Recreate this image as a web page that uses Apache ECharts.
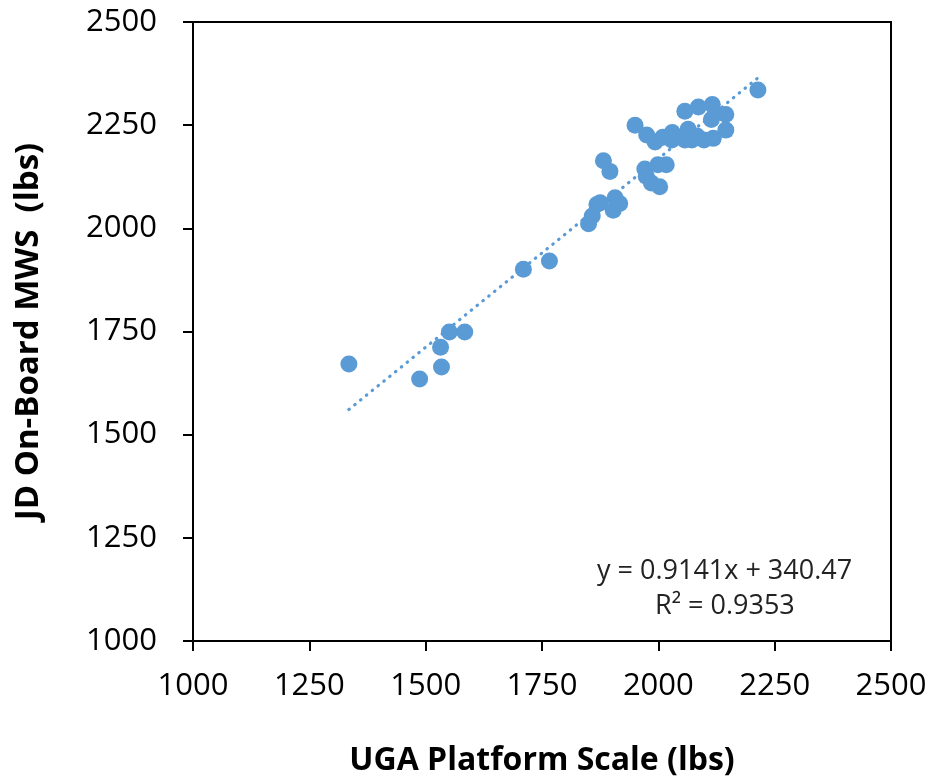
<!DOCTYPE html>
<html>
<head>
<meta charset="utf-8">
<script src="https://cdn.jsdelivr.net/npm/echarts@6/dist/echarts.min.js"></script>
<style>
  html, body { margin: 0; padding: 0; background: #fff; }
  #chart { width: 936px; height: 782px; }
</style>
</head>
<body>
<div id="chart"></div>
<script>
// UGA platform scale vs JD on-board MWS (lbs)
var ugaScale = [1335, 1487, 1532, 1534, 1551, 1584, 1710, 1766,
    1850, 1858, 1868, 1875, 1903, 1907, 1917,
    1882, 1896, 1971, 1974, 1985, 2003, 1999, 2017,
    1950, 1975, 1993, 2010, 2029, 2030, 2057, 2064, 2072, 2083, 2098, 2118, 2145,
    2057, 2086, 2116, 2122, 2145, 2114, 2214];
var jdMws = [1671, 1635, 1712, 1664, 1749, 1749, 1901, 1921,
    2011, 2030, 2058, 2062, 2044, 2074, 2060,
    2164, 2138, 2144, 2126, 2110, 2101, 2154, 2154,
    2250, 2226, 2209, 2221, 2214, 2232, 2214, 2240, 2214, 2224, 2214, 2218, 2238,
    2284, 2294, 2300, 2278, 2276, 2264, 2335];

// linear trendline ends (y = 0.9141x + 340.47)
var trendX = [1335, 2220];
var trendY = [1561, 2370];

var eqText = 'y = 0.9141x + 340.47';
var r2Text = 'R\u00B2 = 0.9353';

var xTicks = [1000, 2500, 250];
var yTicks = [1000, 2500, 250];

var points = ugaScale.map(function (x, i) { return [x, jdMws[i]]; });
var trend = trendX.map(function (x, i) { return [x, trendY[i]]; });

var font = '"Open Sans", "Liberation Sans", sans-serif';
var blue = '#5b9bd5';
var plain = function (v) { return String(v); };

var chart = echarts.init(document.getElementById('chart'));
chart.setOption({
    animation: false,
    textStyle: { fontFamily: font },
    grid: {
        left: 193, right: 45, top: 22, bottom: 140,
        show: true, borderColor: '#000', borderWidth: 2, backgroundColor: '#fff'
    },
    xAxis: {
        type: 'value', min: xTicks[0], max: xTicks[1], interval: xTicks[2],
        name: 'UGA Platform Scale (lbs)', nameLocation: 'middle', nameGap: 104,
        nameTextStyle: { fontSize: 32, fontWeight: 'bold', color: '#000', fontFamily: font },
        axisLine: { onZero: false, lineStyle: { color: '#000', width: 2 } },
        axisTick: { show: true, length: 10, lineStyle: { color: '#000', width: 2 } },
        axisLabel: { fontSize: 31, color: '#000', margin: 30, formatter: plain },
        splitLine: { show: false }
    },
    yAxis: {
        type: 'value', min: yTicks[0], max: yTicks[1], interval: yTicks[2],
        name: 'JD On-Board MWS  (lbs)', nameLocation: 'middle', nameGap: 148,
        nameTextStyle: { fontSize: 33, fontWeight: 'bold', color: '#000', fontFamily: font },
        axisLine: { show: true, onZero: false, lineStyle: { color: '#000', width: 2 } },
        axisTick: { show: true, length: 10, lineStyle: { color: '#000', width: 2 } },
        axisLabel: { fontSize: 31, color: '#000', margin: 36, formatter: plain },
        splitLine: { show: false }
    },
    graphic: [
        { type: 'text', left: 597, top: 558, style: { text: eqText, fontSize: 27, fill: '#222', fontFamily: font } },
        { type: 'text', left: 655, top: 593, style: { text: r2Text, fontSize: 27, fill: '#222', fontFamily: font } }
    ],
    series: [
        {
            type: 'line', data: trend, symbol: 'none', silent: true, z: 1,
            lineStyle: { color: blue, width: 3.2, type: [0.5, 7], cap: 'round' }
        },
        {
            type: 'scatter', data: points, symbol: 'circle', symbolSize: 17, z: 2,
            itemStyle: { color: blue, opacity: 1 }
        }
    ]
});
</script>
</body>
</html>
